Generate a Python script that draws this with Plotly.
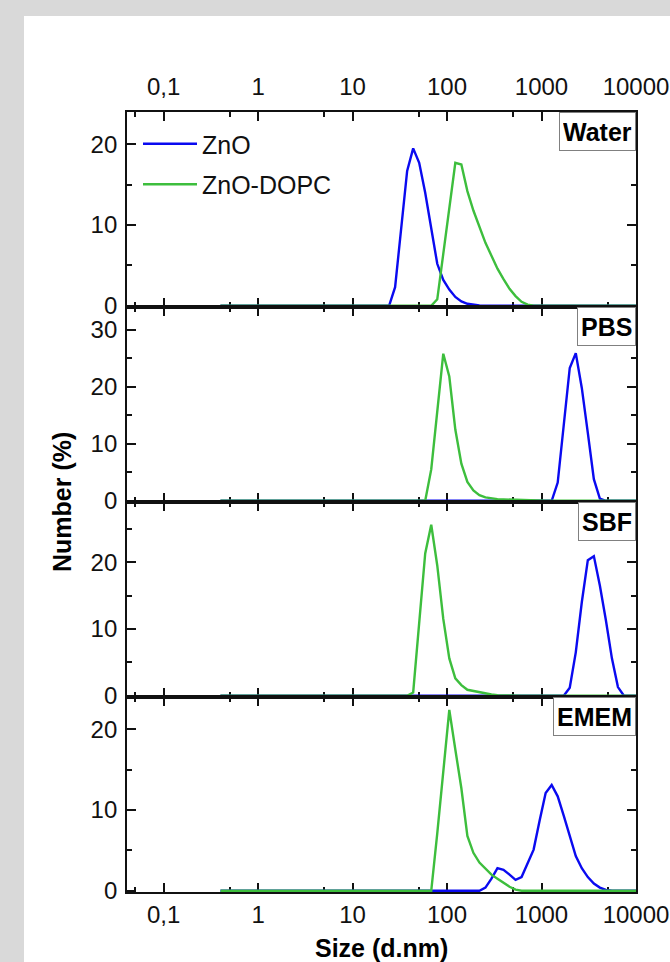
import plotly.graph_objects as go
from plotly.subplots import make_subplots

# Zetasizer size bins (d.nm)
SIZES = [0.4, 0.4632, 0.5365, 0.6213, 0.7195, 0.8332, 0.9649, 1.117, 1.294, 1.499,
         1.736, 2.01, 2.328, 2.696, 3.122, 3.615, 4.187, 4.849, 5.615, 6.503,
         7.531, 8.721, 10.1, 11.7, 13.54, 15.69, 18.17, 21.04, 24.36, 28.21,
         32.67, 37.84, 43.82, 50.75, 58.77, 68.06, 78.82, 91.28, 105.7, 122.4,
         141.8, 164.2, 190.1, 220.2, 255.0, 295.3, 342.0, 396.1, 458.7, 531.2,
         615.1, 712.4, 825.0, 955.4, 1106, 1281, 1484, 1718, 1990, 2305,
         2669, 3091, 3580, 4145, 4801, 5560, 6439, 7456, 8635, 10000]

WATER_ZNO = [0, 0, 0, 0, 0, 0, 0, 0, 0, 0,
             0, 0, 0, 0, 0, 0, 0, 0, 0, 0,
             0, 0, 0, 0, 0, 0, 0, 0, 0, 2.3,
             9.5, 16.7, 19.5, 17.7, 14.0, 9.8, 5.2, 3.2, 2.0, 1.1,
             0.55, 0.25, 0.12, 0.05, 0.02, 0, 0, 0, 0, 0,
             0, 0, 0, 0, 0, 0, 0, 0, 0, 0,
             0, 0, 0, 0, 0, 0, 0, 0, 0, 0]
WATER_DOPC = [0, 0, 0, 0, 0, 0, 0, 0, 0, 0,
              0, 0, 0, 0, 0, 0, 0, 0, 0, 0,
              0, 0, 0, 0, 0, 0, 0, 0, 0, 0,
              0, 0, 0, 0, 0, 0, 0.8, 6.4, 12.0, 17.7,
              17.5, 14.2, 11.8, 9.8, 7.8, 6.2, 4.6, 3.3, 2.1, 1.2,
              0.5, 0.15, 0, 0, 0, 0, 0, 0, 0, 0,
              0, 0, 0, 0, 0, 0, 0, 0, 0, 0]
PBS_ZNO = [0, 0, 0, 0, 0, 0, 0, 0, 0, 0,
           0, 0, 0, 0, 0, 0, 0, 0, 0, 0,
           0, 0, 0, 0, 0, 0, 0, 0, 0, 0,
           0, 0, 0, 0, 0, 0, 0, 0, 0, 0,
           0, 0, 0, 0, 0, 0, 0, 0, 0, 0,
           0, 0, 0, 0, 0, 0, 3.2, 13.0, 23.3, 25.9,
           19.8, 11.9, 3.8, 0.4, 0, 0, 0, 0, 0, 0]
PBS_DOPC = [0, 0, 0, 0, 0, 0, 0, 0, 0, 0,
            0, 0, 0, 0, 0, 0, 0, 0, 0, 0,
            0, 0, 0, 0, 0, 0, 0, 0, 0, 0,
            0, 0, 0, 0, 0, 5.5, 15.5, 25.8, 21.8, 12.5,
            6.5, 3.3, 1.8, 1.0, 0.6, 0.4, 0.3, 0.25, 0.2, 0.15,
            0.1, 0.05, 0, 0, 0, 0, 0, 0, 0, 0,
            0, 0, 0, 0, 0, 0, 0, 0, 0, 0]
SBF_ZNO = [0, 0, 0, 0, 0, 0, 0, 0, 0, 0,
           0, 0, 0, 0, 0, 0, 0, 0, 0, 0,
           0, 0, 0, 0, 0, 0, 0, 0, 0, 0,
           0, 0, 0, 0, 0, 0, 0, 0, 0, 0,
           0, 0, 0, 0, 0, 0, 0, 0, 0, 0,
           0, 0, 0, 0, 0, 0, 0, 0, 1.2, 6.5,
           14.0, 20.3, 20.9, 16.5, 11.3, 5.6, 1.3, 0, 0, 0]
SBF_DOPC = [0, 0, 0, 0, 0, 0, 0, 0, 0, 0,
            0, 0, 0, 0, 0, 0, 0, 0, 0, 0,
            0, 0, 0, 0, 0, 0, 0, 0, 0, 0,
            0, 0, 0.5, 11.5, 21.3, 25.6, 19.5, 11.5, 5.6, 2.6,
            1.6, 0.9, 0.7, 0.5, 0.3, 0.2, 0.1, 0.05, 0, 0,
            0, 0, 0, 0, 0, 0, 0, 0, 0, 0,
            0, 0, 0, 0, 0, 0, 0, 0, 0, 0]
EMEM_ZNO = [0, 0, 0, 0, 0, 0, 0, 0, 0, 0,
            0, 0, 0, 0, 0, 0, 0, 0, 0, 0,
            0, 0, 0, 0, 0, 0, 0, 0, 0, 0,
            0, 0, 0, 0, 0, 0, 0, 0, 0, 0,
            0, 0, 0, 0, 0.4, 1.5, 2.8, 2.6, 2.0, 1.35,
            1.7, 3.3, 5.1, 8.7, 12.1, 13.1, 11.7, 9.3, 6.7, 4.3,
            2.8, 1.7, 0.9, 0.4, 0.1, 0, 0, 0, 0, 0]
EMEM_DOPC = [0, 0, 0, 0, 0, 0, 0, 0, 0, 0,
             0, 0, 0, 0, 0, 0, 0, 0, 0, 0,
             0, 0, 0, 0, 0, 0, 0, 0, 0, 0,
             0, 0, 0, 0, 0, 0, 7.1, 15.2, 22.4, 17.5,
             12.7, 6.8, 4.7, 3.5, 2.7, 2.0, 1.5, 0.95, 0.5, 0.15,
             0, 0, 0, 0, 0, 0, 0, 0, 0, 0,
             0, 0, 0, 0, 0, 0, 0, 0, 0, 0]

PANELS = ["Water", "PBS", "SBF", "EMEM"]
ZNO = [WATER_ZNO, PBS_ZNO, SBF_ZNO, EMEM_ZNO]
DOPC = [WATER_DOPC, PBS_DOPC, SBF_DOPC, EMEM_DOPC]
Y_MAX = [24.0, 34.0, 29.0, 24.0]
Y_TICKS = [[0, 10, 20], [0, 10, 20, 30], [0, 10, 20], [0, 10, 20]]
X_TICKS = [0.1, 1, 10, 100, 1000, 10000]
X_TICK_TEXT = ["0,1", "1", "10", "100", "1000", "10000"]
X_MINOR = [0.05, 0.5, 5, 50, 500, 5000]
SERIES_NAMES = ["ZnO", "ZnO-DOPC"]

BLUE = "#0A0AF0"
GREEN = "#3DBE3D"
FONT = "Liberation Sans, Arial, sans-serif"
AX = "#111111"

W, H = 670, 962
ML, MR, MT, MB = 127, 34, 112, 70
PW, PH = W - ML - MR, H - MT - MB

def px_x(px):
    return (px - ML) / PW

def px_y(py):
    return (H - MB - py) / PH

fig = make_subplots(rows=4, cols=1, vertical_spacing=0)

for i in range(4):
    r = i + 1
    fig.add_trace(go.Scatter(x=SIZES, y=ZNO[i], mode="lines", name=SERIES_NAMES[0],
                             line=dict(color=BLUE, width=2.4), legendgroup="a",
                             showlegend=(i == 0)), row=r, col=1)
    fig.add_trace(go.Scatter(x=SIZES, y=DOPC[i], mode="lines", name=SERIES_NAMES[1],
                             line=dict(color=GREEN, width=2.4), legendgroup="b",
                             showlegend=(i == 0)), row=r, col=1)

    fig.update_xaxes(type="log", range=[-1.387, 4.0], showline=True, linewidth=1.8,
                     linecolor=AX, mirror="allticks", ticks="inside", ticklen=9,
                     tickwidth=1.5, tickcolor=AX, tickmode="array", tickvals=X_TICKS,
                     ticktext=X_TICK_TEXT, showgrid=False, zeroline=False,
                     layer="below traces", automargin=False,
                     minor=dict(tickvals=X_MINOR, ticks="inside", ticklen=5,
                                tickwidth=1.5, tickcolor=AX, showgrid=False),
                     tickfont=dict(family=FONT, size=24, color="#111111"),
                     showticklabels=(i in (0, 3)),
                     side=("top" if i == 0 else "bottom"),
                     ticklabelstandoff=(6 if i == 0 else 0),
                     row=r, col=1)
    fig.update_yaxes(range=[-0.15 * Y_MAX[i] / 24, Y_MAX[i]], showline=True, linewidth=1.8,
                     linecolor=AX, mirror="allticks", ticks="inside", ticklen=9,
                     tickwidth=1.5, tickcolor=AX, tickmode="array", tickvals=Y_TICKS[i],
                     showgrid=False, zeroline=False, layer="below traces", automargin=False,
                     minor=dict(dtick=5, tick0=0, ticks="inside", ticklen=5,
                                tickwidth=1.5, tickcolor=AX, showgrid=False),
                     tickfont=dict(family=FONT, size=24, color="#111111"),
                     ticklabelstandoff=3,
                     row=r, col=1)

    fig.add_annotation(text="<b>%s</b>" % PANELS[i], xref="x%s domain" % ("" if r == 1 else r),
                       yref="y%s domain" % ("" if r == 1 else r), x=1, y=1,
                       xanchor="right", yanchor="top", showarrow=False,
                       font=dict(family=FONT, size=25, color="#000000"),
                       bgcolor="white", bordercolor="#808080", borderwidth=1,
                       borderpad=3, height=31)

# background (grey strips at the left and top edges of the screenshot)
fig.add_shape(type="rect", xref="paper", yref="paper", x0=px_x(24), x1=px_x(690),
              y0=px_y(990), y1=px_y(16), fillcolor="white", line=dict(width=0),
              layer="below")

fig.add_annotation(text="<b>Size (d.nm)</b>", xref="paper", yref="paper", x=0.5,
                   y=px_y(948), xanchor="center", yanchor="middle", showarrow=False,
                   font=dict(family=FONT, size=25, color="#000000"))
fig.add_annotation(text="<b>Number (%)</b>", xref="paper", yref="paper", x=px_x(62),
                   y=0.5, xanchor="center", yanchor="middle", showarrow=False,
                   textangle=-90, font=dict(family=FONT, size=25, color="#000000"))

fig.update_layout(
    width=W, height=H,
    margin=dict(l=ML, r=MR, t=MT, b=MB, autoexpand=False),
    paper_bgcolor="#d9d9d9",
    plot_bgcolor="rgba(0,0,0,0)",
    showlegend=True,
    legend=dict(x=px_x(138), y=px_y(121), xanchor="left", yanchor="top",
                bgcolor="rgba(0,0,0,0)", borderwidth=0,
                font=dict(family=FONT, size=25, color="#111111"),
                itemwidth=54, tracegroupgap=5, traceorder="grouped"),
    font=dict(family=FONT),
)

fig.write_html("out.html", config={"displayModeBar": False},
               post_script="document.body.style.margin='0';document.body.style.overflow='hidden';")
